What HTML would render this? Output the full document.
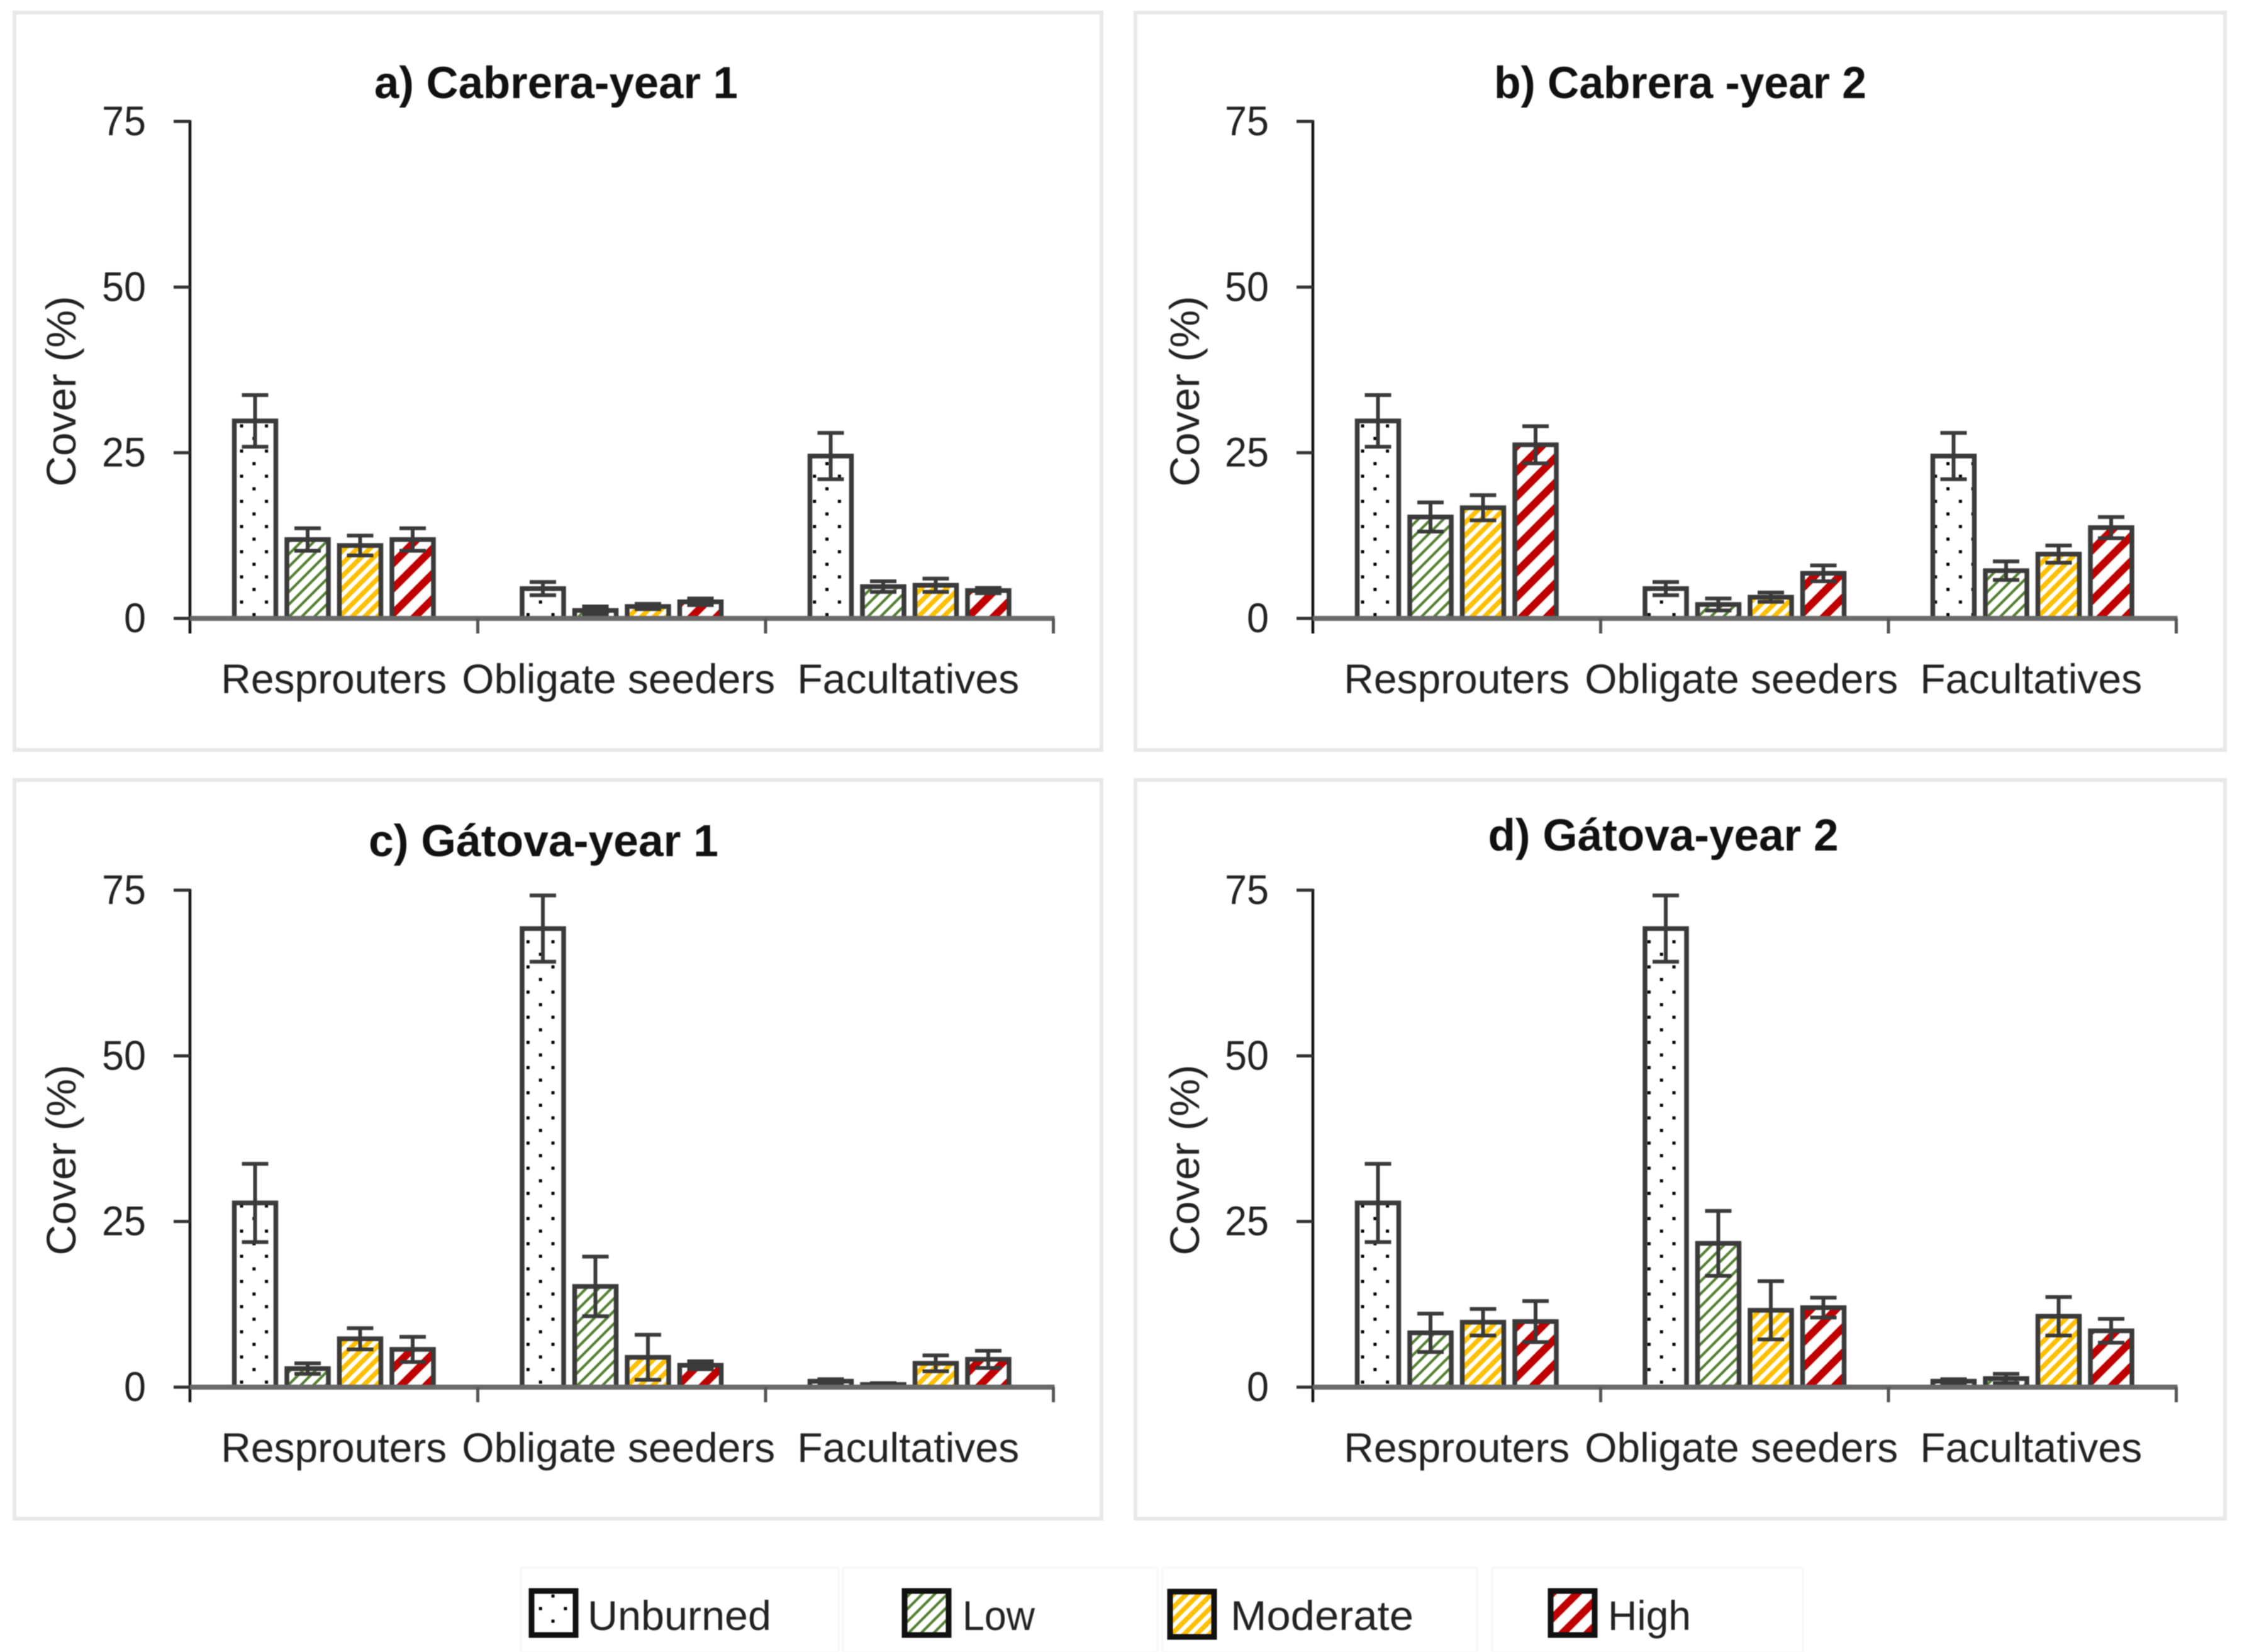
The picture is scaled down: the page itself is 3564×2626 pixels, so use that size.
<!DOCTYPE html>
<html lang="en">
<head>
<meta charset="utf-8">
<title>Cover by post-fire regeneration strategy</title>
<style>
html,body{margin:0;padding:0;background:#fff;width:3564px;height:2626px;overflow:hidden}
svg{display:block;filter:blur(0.8px)}
text{font-family:"Liberation Sans",sans-serif;fill:#222}
.title{font-size:71px;font-weight:bold;fill:#111;text-anchor:middle}
.lab{font-size:66px}
</style>
</head>
<body>
<svg id="figure" xmlns="http://www.w3.org/2000/svg" width="3564" height="2626" viewBox="0 0 3564 2626">
  <defs>
    <pattern id="pat-dots" patternUnits="userSpaceOnUse" x="384" y="677" width="39.6" height="40">
      <rect x="0" y="0" width="39.6" height="40" fill="#fff"/>
      <rect x="-2.5" y="-2.5" width="5" height="5" fill="#000"/>
      <rect x="37.1" y="-2.5" width="5" height="5" fill="#000"/>
      <rect x="-2.5" y="37.5" width="5" height="5" fill="#000"/>
      <rect x="37.1" y="37.5" width="5" height="5" fill="#000"/>
      <rect x="17.3" y="17.5" width="5" height="5" fill="#000"/>
    </pattern>
    <pattern id="pat-green" patternUnits="userSpaceOnUse" width="20" height="20">
      <rect width="20" height="20" fill="#fff"/>
      <path d="M-5 25L25 -5M-5 5L5 -5M15 25L25 15" stroke="#548235" stroke-width="4.2" fill="none"/>
    </pattern>
    <pattern id="pat-yellow" patternUnits="userSpaceOnUse" width="20" height="20">
      <rect width="20" height="20" fill="#fff"/>
      <path d="M-5 25L25 -5M-5 5L5 -5M15 25L25 15" stroke="#ffc000" stroke-width="7.5" fill="none"/>
    </pattern>
    <pattern id="pat-red" patternUnits="userSpaceOnUse" width="40" height="40">
      <rect width="40" height="40" fill="#fff"/>
      <path d="M-10 50L50 -10M-10 10L10 -10M30 50L50 30" stroke="#c00000" stroke-width="12" fill="none"/>
    </pattern>
  </defs>

  <rect x="23" y="20" width="1728" height="1172" fill="#fff" stroke="#e8e8e8" stroke-width="6"/>
  <rect x="1805" y="20" width="1732" height="1172" fill="#fff" stroke="#e8e8e8" stroke-width="6"/>
  <rect x="23" y="1240" width="1728" height="1174" fill="#fff" stroke="#e8e8e8" stroke-width="6"/>
  <rect x="1805" y="1240" width="1732" height="1174" fill="#fff" stroke="#e8e8e8" stroke-width="6"/>

  <text class="title" x="884" y="156" textLength="578" lengthAdjust="spacingAndGlyphs">a) Cabrera-year 1</text>
  <text class="title" x="2671" y="156" textLength="592" lengthAdjust="spacingAndGlyphs">b) Cabrera -year 2</text>
  <text class="title" x="864" y="1361" textLength="556" lengthAdjust="spacingAndGlyphs">c) Gátova-year 1</text>
  <text class="title" x="2644" y="1352" textLength="557" lengthAdjust="spacingAndGlyphs">d) Gátova-year 2</text>

  <text class="lab" transform="translate(120,622) rotate(-90)" text-anchor="middle" textLength="303" lengthAdjust="spacingAndGlyphs">Cover (%)</text>
  <text class="lab" transform="translate(1906,622) rotate(-90)" text-anchor="middle" textLength="303" lengthAdjust="spacingAndGlyphs">Cover (%)</text>
  <text class="lab" transform="translate(120,1844) rotate(-90)" text-anchor="middle" textLength="303" lengthAdjust="spacingAndGlyphs">Cover (%)</text>
  <text class="lab" transform="translate(1906,1844) rotate(-90)" text-anchor="middle" textLength="303" lengthAdjust="spacingAndGlyphs">Cover (%)</text>

  <g id="charts"></g>

  <g>
    <rect x="828" y="2492" width="505" height="134" fill="none" stroke="#f8f8f8" stroke-width="3"/>
    <rect x="1340" y="2492" width="500" height="134" fill="none" stroke="#f8f8f8" stroke-width="3"/>
    <rect x="1848" y="2492" width="500" height="134" fill="none" stroke="#f8f8f8" stroke-width="3"/>
    <rect x="2372" y="2492" width="494" height="134" fill="none" stroke="#f8f8f8" stroke-width="3"/>

    <rect x="845" y="2529" width="70" height="70" fill="url(#pat-dots)" stroke="#111" stroke-width="9"/>
    <text class="lab" x="934" y="2591" textLength="292" lengthAdjust="spacingAndGlyphs">Unburned</text>

    <rect x="1438" y="2529" width="70" height="70" fill="url(#pat-green)" stroke="#111" stroke-width="9"/>
    <text class="lab" x="1530" y="2591" textLength="115" lengthAdjust="spacingAndGlyphs">Low</text>

    <rect x="1860" y="2530" width="70" height="72" fill="url(#pat-yellow)" stroke="#111" stroke-width="9"/>
    <text class="lab" x="1956" y="2591" textLength="291" lengthAdjust="spacingAndGlyphs">Moderate</text>

    <rect x="2465" y="2529" width="70" height="70" fill="url(#pat-red)" stroke="#111" stroke-width="9"/>
    <text class="lab" x="2556" y="2591" textLength="132" lengthAdjust="spacingAndGlyphs">High</text>
  </g>
</svg>

<script>
const categories = ["Resprouters", "Obligate seeders", "Facultatives"];
const severities = ["unburned", "low", "moderate", "high"];
const yTickLabels = [0, 25, 50, 75];

// Values: one row per category, one column per severity (Unburned, Low, Moderate, High)
const cabreraYear1Values = [[29.8, 11.9, 11.0, 11.9], [4.5, 1.2, 1.8, 2.5], [24.5, 4.8, 5.0, 4.2]];
const cabreraYear1Errors = [[3.9, 1.7, 1.5, 1.7], [1.0, 0.6, 0.4, 0.5], [3.5, 0.8, 1.0, 0.4]];
const cabreraYear2Values = [[29.8, 15.3, 16.7, 26.2], [4.5, 2.1, 3.2, 6.8], [24.5, 7.2, 9.7, 13.7]];
const cabreraYear2Errors = [[3.9, 2.2, 1.9, 2.8], [1.0, 0.9, 0.7, 1.2], [3.5, 1.4, 1.3, 1.6]];
const gatovaYear1Values = [[27.8, 2.8, 7.3, 5.7], [69.2, 15.2, 4.5, 3.3], [0.9, 0.4, 3.6, 4.2]];
const gatovaYear1Errors = [[5.9, 0.8, 1.6, 1.9], [5.0, 4.5, 3.4, 0.6], [0.3, 0.2, 1.2, 1.3]];
const gatovaYear2Values = [[27.8, 8.2, 9.8, 9.9], [69.2, 21.7, 11.6, 12.0], [0.9, 1.3, 10.7, 8.5]];
const gatovaYear2Errors = [[5.9, 2.9, 2.0, 3.1], [5.0, 4.9, 4.4, 1.5], [0.3, 0.7, 2.9, 1.8]];

const SVG_NS = "http://www.w3.org/2000/svg";
const root = document.getElementById("charts");
const fills = {unburned: "url(#pat-dots)", low: "url(#pat-green)", moderate: "url(#pat-yellow)", high: "url(#pat-red)"};
const labelLengths = {"Resprouters": 359, "Obligate seeders": 498, "Facultatives": 353};
const Y_MAX = 75;

function mk(tag, attrs, parent) {
  const el = document.createElementNS(SVG_NS, tag);
  for (const k in attrs) el.setAttribute(k, attrs[k]);
  parent.appendChild(el);
  return el;
}

function drawPanel(id, originX, baseY, values, errors) {
  const plotH = 790, groupW = 457.5, pitch = 83.5, barW = 66;
  const yScale = v => baseY - (v / Y_MAX) * plotH;
  const groupX = i => originX + groupW * i;

  const g = mk("g", {}, root);
  
  

  categories.forEach((cat, c) => {
    const centre = groupX(c) + groupW / 2;
    severities.forEach((sev, s) => {
      const x = centre + (s - 1.5) * pitch;
      const v = values[c][s];
      const e = errors[c][s];
      const bar = mk("rect", {
        x: x - barW / 2, y: yScale(v), width: barW, height: baseY - yScale(v),
        fill: fills[sev], stroke: "#3a3a3a", "stroke-width": 7.5
      }, g);
      
      

      const stem = mk("line", {x1: x, x2: x, y1: yScale(v + e), y2: yScale(Math.max(v - e, 0)), stroke: "#3a3a3a", "stroke-width": 6}, g);
      
      

      [v + e, Math.max(v - e, 0)].forEach(val => {
        const cap = mk("line", {x1: x - 21, x2: x + 21, y1: yScale(val), y2: yScale(val), stroke: "#3a3a3a", "stroke-width": 6}, g);
        
        
      });
    });

    const lab = mk("text", {
      x: centre + (c === 0 ? 0 : c === 1 ? -5 : -2), y: baseY + 119, class: "lab", "text-anchor": "middle",
      textLength: labelLengths[cat], lengthAdjust: "spacingAndGlyphs"
    }, g);
    lab.textContent = cat;
    
    
  });

  const yAxis = mk("line", {x1: originX, x2: originX, y1: yScale(Y_MAX) - 2, y2: baseY + 24, stroke: "#111", "stroke-width": 4.5}, g);
  
  

  const xAxis = mk("line", {x1: originX, x2: groupX(3) + 2, y1: baseY, y2: baseY, stroke: "#6a6a6a", "stroke-width": 8}, g);
  
  

  yTickLabels.forEach(t => {
    const tick = mk("line", {x1: originX - 26, x2: originX, y1: yScale(t), y2: yScale(t), stroke: "#333", "stroke-width": 5}, g);
    
    
    const lab = mk("text", {x: originX - 70, y: yScale(t) + 22, class: "lab", "text-anchor": "end",
      textLength: String(t).length * 35, lengthAdjust: "spacingAndGlyphs"}, g);
    lab.textContent = t;
    
    
  });

  for (let i = 1; i <= categories.length; i++) {
    const tick = mk("line", {x1: groupX(i), x2: groupX(i), y1: baseY, y2: baseY + 24, stroke: "#555", "stroke-width": 5}, g);
    
    
  }
}

drawPanel("a", 302, 983, cabreraYear1Values, cabreraYear1Errors);
drawPanel("b", 2087, 983, cabreraYear2Values, cabreraYear2Errors);
drawPanel("c", 302, 2205, gatovaYear1Values, gatovaYear1Errors);
drawPanel("d", 2087, 2205, gatovaYear2Values, gatovaYear2Errors);
</script>
</body>
</html>
